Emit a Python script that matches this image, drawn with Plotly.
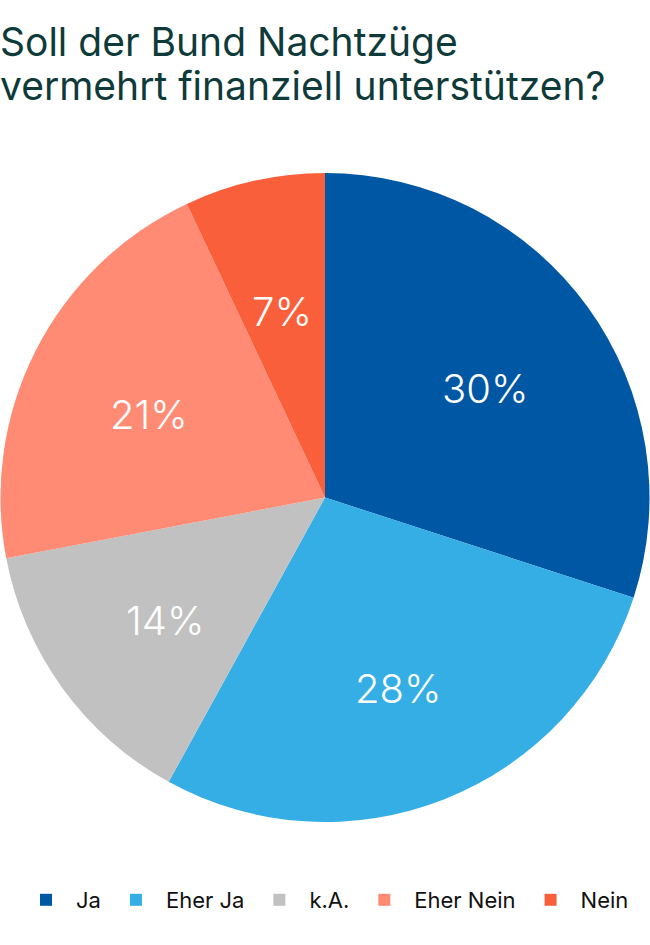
import math
import plotly.graph_objects as go

labels = ["Ja", "Eher Ja", "k.A.", "Eher Nein", "Nein"]
values = [30, 28, 14, 21, 7]
colors = ["#0057a4", "#35aee6", "#c1c1c1", "#ff8b74", "#fa5f3c"]

title_lines = ["Soll der Bund Nachtzüge", "vermehrt finanziell unterstützen?"]

W, H = 650, 945
pie_y = [1 - 822 / H, 1 - 173 / H]

fig = go.Figure(go.Pie(
    labels=labels,
    values=values,
    sort=False,
    direction="clockwise",
    rotation=0,
    marker=dict(colors=colors, line=dict(width=0)),
    textinfo="none",
    hoverinfo="label+percent",
    domain=dict(x=[0, 1], y=pie_y),
))

# percent labels, placed at ~0.61 of the radius on each slice's mid angle
radius = min(W, (pie_y[1] - pie_y[0]) * H) / 2
cx, cy = 0.5, (pie_y[0] + pie_y[1]) / 2
total = sum(values)
start = 0
for v in values:
    mid = (start + v / 2) / total * 2 * math.pi
    start += v
    r = 0.61 * radius
    fig.add_annotation(
        text=f"{v}%", showarrow=False,
        xref="paper", yref="paper",
        x=cx + r * math.sin(mid) / W,
        y=cy + r * math.cos(mid) / H,
        xanchor="center", yanchor="middle",
        yshift=-7,
        font=dict(family="Inter", size=40, color="white", weight=300),
    )

# title as two separate lines (tighter line spacing than plotly's <br>)
for i, line in enumerate(title_lines):
    fig.add_annotation(
        text=line, showarrow=False,
        xref="paper", yref="paper",
        x=0.0, xanchor="left",
        y=1 - (41 + 45 * i) / H, yanchor="middle",
        xshift=-2,
        font=dict(family="Inter", size=39, color="#0e3b3a"),
    )

fig.update_layout(
    width=W,
    height=H,
    margin=dict(l=0, r=0, t=0, b=0),
    paper_bgcolor="white",
    font=dict(family="Inter", color="#111111"),
    legend=dict(
        orientation="h",
        x=0.5, xanchor="center",
        y=1 - 900 / H, yanchor="middle",
        font=dict(size=22, color="#111111"),
        itemwidth=50,
        traceorder="normal",
    ),
)

fig.write_html("out.html", config={"displayModeBar": False},
               post_script="document.body.style.margin='0';")
